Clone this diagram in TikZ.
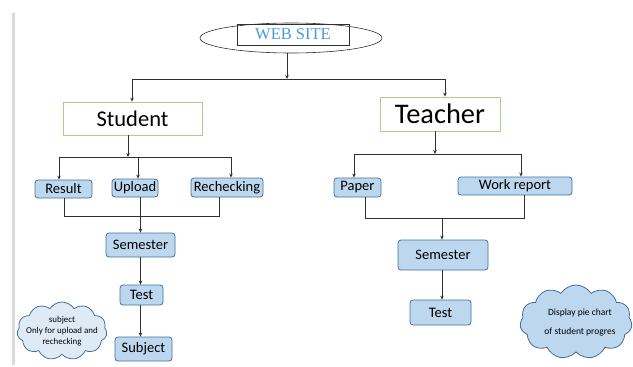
\documentclass[tikz,border=0pt]{standalone}
\usepackage{fontspec}
\setmainfont{Carlito}
\newfontfamily\webfont{Liberation Serif}
\usetikzlibrary{arrows.meta,shapes.geometric,shapes.symbols}
\definecolor{boxfill}{HTML}{BDD7EE}
\definecolor{boxline}{HTML}{41719C}
\definecolor{lightfill}{HTML}{DEEBF7}
\definecolor{greenline}{HTML}{A9D18E}
\definecolor{webblue}{HTML}{4A9BD8}
\definecolor{conn}{HTML}{303030}
\definecolor{barcol}{HTML}{D9D9D9}
\tikzset{
  blue box/.style={draw=boxline, fill=boxfill, rounded corners=3pt, line width=0.8pt,
    inner sep=0pt, font=\fontsize{14.5}{16}\selectfont},
  role box/.style={draw=greenline, line width=0.8pt, inner sep=0pt},
  conline/.style={draw=conn, line width=0.7pt},
  arr/.style={conline, -{Stealth[length=4pt,width=3.5pt]}},
  note cloud/.style={cloud, cloud puffs=11, cloud puff arc=115, draw=boxline, line width=0.8pt,
    inner sep=0pt, align=center}
}
\begin{document}
\begin{tikzpicture}[x=1pt,y=-1pt]
\useasboundingbox (0,0) rectangle (633,367);
\fill[barcol] (12,13) rectangle (15,365);

% top
\node[ellipse, draw=conn, line width=0.6pt, minimum width=182, minimum height=30, inner sep=0pt] (web) at (291,38) {};
\node[draw=conn, line width=0.6pt, minimum width=112, minimum height=21, inner sep=0pt,
  font=\webfont\fontsize{16.5}{18}\selectfont, text=webblue] (webbox) at (293,34.5) {WEB SITE};

\node[role box, minimum width=139, minimum height=33, font=\fontsize{22.5}{26}\selectfont] (student) at (132.5,118.5) {Student};
\node[role box, minimum width=120, minimum height=34, font=\fontsize{28.4}{32}\selectfont] (teacher) at (440,114) {Teacher};

% student side
\node[blue box, minimum width=57, minimum height=18] (result) at (63.5,189) {Result};
\node[blue box, minimum width=46, minimum height=18] (upload) at (135,188) {Upload};
\node[blue box, minimum width=72, minimum height=19] (recheck) at (227,187.5) {Rechecking};
\node[blue box, minimum width=69, minimum height=24] (semL) at (140.5,245) {Semester};
\node[blue box, minimum width=43, minimum height=20] (testL) at (141.5,295) {Test};
\node[blue box, minimum width=57, minimum height=24] (subject) at (143.5,349) {Subject};

% teacher side
\node[blue box, minimum width=47, minimum height=19] (paper) at (357.5,187.5) {Paper};
\node[blue box, minimum width=114, minimum height=18] (work) at (515,186) {Work report};
\node[blue box, minimum width=90, minimum height=30] (semR) at (443,255) {Semester};
\node[blue box, minimum width=61, minimum height=25] (testR) at (440.5,312.5) {Test};

% clouds
\node[note cloud, fill=lightfill, minimum width=90, minimum height=58, aspect=1.6] (cloudL) at (62,331) {};
\node[font=\fontsize{8.9}{11}\selectfont, align=center] (cloudLtext) at (cloudL.center) {subject\\Only for upload and\\rechecking};
\node[note cloud, fill=boxfill, minimum width=112, minimum height=74, aspect=1.5] (cloudR) at (576,322) {};
\node[font=\fontsize{9.5}{19}\selectfont, align=center] (cloudRtext) at (580,322.5) {Display pie chart\\of student progres};

% top connectors
\coordinate (tj) at (287,79);
\coordinate (hL) at (132,79);
\coordinate (hR) at (445,79);
\draw[arr] (tj |- web.south) -- (tj);
\draw[conline] (hL) -- (hR);
\draw[arr] (hL) -- (hL |- student.north);
\draw[arr] (hR) -- (hR |- teacher.north);

% student fan-out
\coordinate (sj) at (128,157);
\coordinate (sL) at (59,157);
\coordinate (sM) at (138,157);
\coordinate (sR) at (231,157);
\draw[arr] (sj |- student.south) -- (sj);
\draw[conline] (sL) -- (sR);
\draw[arr] (sL) -- (sL |- result.north);
\draw[arr] (sM) -- (sM |- upload.north);
\draw[arr] (sR) -- (sR |- recheck.north);

% student merge
\coordinate (mL) at (64,216);
\coordinate (mR) at (219,216);
\draw[conline] (mL |- result.south) -- (mL) -- (mR) -- (mR |- recheck.south);
\draw[arr] (140.5,0 |- upload.south) -- (semL.north);
\draw[arr] (semL.south) -- (semL.south |- testL.north);
\draw[arr] (semL.south |- testL.south) -- (semL.south |- subject.north);

% teacher fan-out
\coordinate (tj2) at (435,154);
\coordinate (tL) at (354,154);
\coordinate (tR) at (521,154);
\draw[arr] (tj2 |- teacher.south) -- (tj2);
\draw[conline] (tL) -- (tR);
\draw[arr] (tL) -- (tL |- paper.north);
\draw[arr] (tR) -- (tR |- work.north);

% teacher merge
\coordinate (nL) at (365,218);
\coordinate (nR) at (524,218);
\coordinate (nM) at (442,218);
\draw[conline] (nL |- paper.south) -- (nL) -- (nR) -- (nR |- work.south);
\draw[arr] (nM) -- (nM |- semR.north);
\draw[arr] (nM |- semR.south) -- (nM |- testR.north);
\end{tikzpicture}
\end{document}
